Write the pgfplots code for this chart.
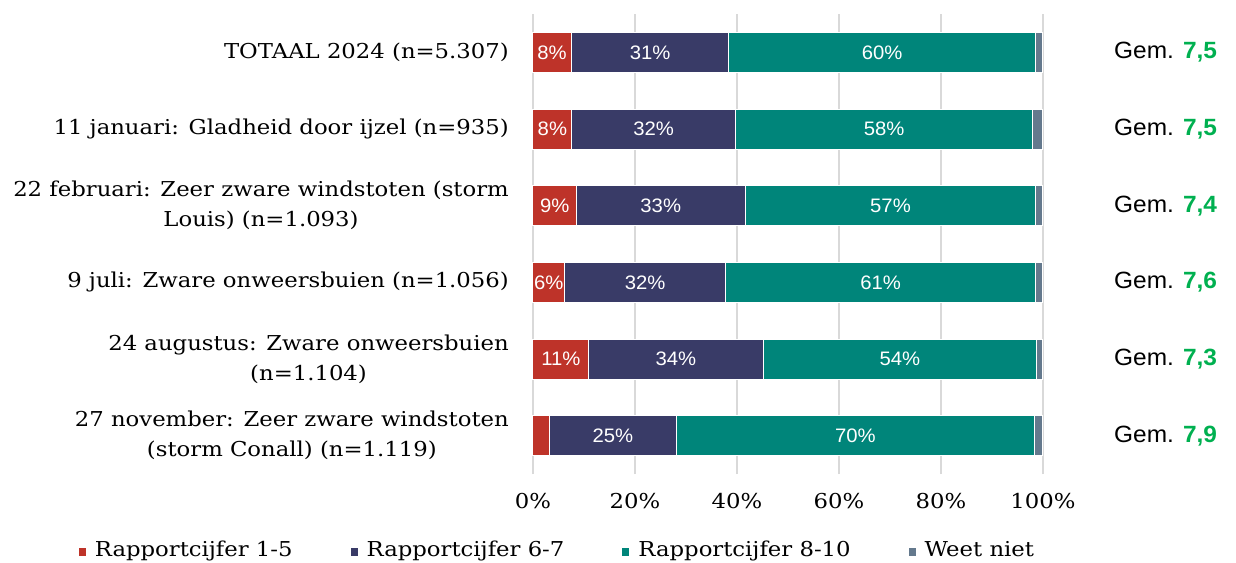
\documentclass[border=0pt]{standalone}
\usepackage{fontspec}
\setmainfont[FakeStretch=1.11]{DejaVu Serif}
\newfontfamily\sansf[FakeStretch=1.04]{Liberation Sans}
\usepackage{pgfplots}
\usepackage{pgfplotstable}
\pgfplotsset{compat=1.18}
\definecolor{cred}{HTML}{BE3329}
\definecolor{cnavy}{HTML}{393B67}
\definecolor{cteal}{HTML}{00857A}
\definecolor{cgrey}{HTML}{64798D}
\definecolor{cgreen}{HTML}{00B050}
\definecolor{cgrid}{HTML}{D9D9D9}
\newcommand\serif{\fontsize{20.5bp}{30bp}\selectfont}
\newcommand\barf{\sansf\fontsize{19.5bp}{22bp}\selectfont}
\newcommand\gemf{\sansf\fontsize{23.5bp}{26bp}\selectfont}

\pgfplotstableread{
y a b c d la lb lc
6 7.5 30.9 60.1 1.5 8 31 60
5 7.6 32.1 58.3 2.0 8 32 58
4 8.5 33.1 57.0 1.4 9 33 57
3 6.2 31.6 60.7 1.5 6 32 61
2 10.9 34.2 53.7 1.2 11 34 54
1 3.2 24.9 70.2 1.7 3 25 70
}\data

\pgfplotsset{common/.style={width=510bp, height=460bp, scale only axis, xmin=0, xmax=100, ymin=0.5, ymax=6.5, clip=false},
 sq/.style={legend image code/.code={\fill[#1, draw=none] (0bp,-6bp) rectangle (7bp,2bp);}},
 lab/.style={only marks, mark=*, mark size=0pt, mark options={draw=none, fill=none}, point meta=explicit symbolic,
   nodes near coords={\pgfplotspointmeta\%},
   every node near coord/.append style={anchor=center, text=white, font=\barf, inner sep=0pt}}}

\begin{document}
\begin{tikzpicture}
\path (-533bp,-89bp) rectangle (703bp,474bp);
\begin{axis}[common,
 xbar stacked, bar width=40bp,
 axis line style={draw=none}, major tick length=0pt,
 xtick={0,20,40,60,80,100}, xticklabels={0\%,20\%,40\%,60\%,80\%,100\%},
 xmajorgrids, grid style={cgrid, line width=1.5bp},
 xticklabel style={font=\serif, yshift=-16bp},
 ytick={1,...,6},
 yticklabels={{27 november: Zeer zware windstoten\\(storm Conall) (n=1.119)},
   {24 augustus: Zware onweersbuien\\(n=1.104)},
   {9 juli: Zware onweersbuien (n=1.056)},
   {22 februari: Zeer zware windstoten (storm\\Louis) (n=1.093)},
   {11 januari: Gladheid door ijzel (n=935)},
   {TOTAAL 2024 (n=5.307)}},
 yticklabel style={font=\serif, align=center, inner sep=0pt, xshift=-24bp},
 legend columns=-1,
 legend style={at={(axis description cs:0.048,-0.165)}, anchor=center, draw=none, font=\serif, inner sep=0pt,
   /tikz/every odd column/.append style={column sep=7bp},
   /tikz/every even column/.append style={column sep=56bp}},
]
\addplot[fill=cred, draw=white, line width=1bp, sq] table[x=a, y=y] \data;
\addplot[fill=cnavy, draw=white, line width=1bp, sq] table[x=b, y=y] \data;
\addplot[fill=cteal, draw=white, line width=1bp, sq] table[x=c, y=y] \data;
\addplot[fill=cgrey, draw=white, line width=1bp, sq] table[x=d, y=y] \data;
\legend{Rapportcijfer 1-5, Rapportcijfer 6-7, Rapportcijfer 8-10, Weet niet}
\end{axis}
\begin{axis}[common, hide x axis, axis y line*=right, y axis line style={draw=none}, major tick length=0pt,
 ytick={1,...,6},
 yticklabels={{Gem. {\color{cgreen}\bfseries 7,9}}, {Gem. {\color{cgreen}\bfseries 7,3}}, {Gem. {\color{cgreen}\bfseries 7,6}},
   {Gem. {\color{cgreen}\bfseries 7,4}}, {Gem. {\color{cgreen}\bfseries 7,5}}, {Gem. {\color{cgreen}\bfseries 7,5}}},
 yticklabel style={font=\gemf, inner sep=0pt, anchor=west, xshift=71bp}]
\addplot[lab, skip coords between index={5}{6}] table[x expr=\thisrow{a}/2, y=y, meta=la] \data;
\addplot[lab] table[x expr=\thisrow{a}+\thisrow{b}/2, y=y, meta=lb] \data;
\addplot[lab] table[x expr=\thisrow{a}+\thisrow{b}+\thisrow{c}/2, y=y, meta=lc] \data;
\end{axis}
\end{tikzpicture}
\end{document}
